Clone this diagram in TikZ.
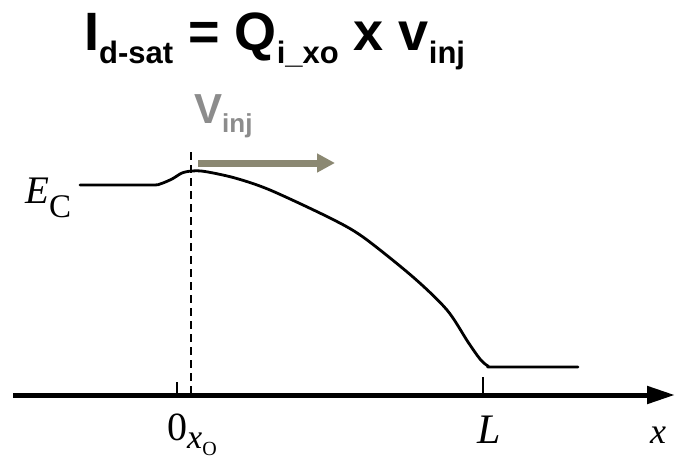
\documentclass[tikz,border=0pt]{standalone}
\usepackage{fontspec}
\setmainfont{Liberation Serif}
\newfontfamily\headf{Liberation Sans}
\usetikzlibrary{arrows.meta}
\definecolor{vgray}{HTML}{8C8C8C}
\definecolor{arrgray}{HTML}{8B8872}
\tikzset{
  lbl/.style={inner sep=0pt, anchor=base west},
  band/.style={line width=2.8pt, line join=round, line cap=round},
  axisline/.style={line width=5pt, -{Triangle[length=28pt,width=17pt]}},
  tickmark/.style={line width=2.2pt},
  refline/.style={line width=2.5pt, dash pattern=on 8pt off 5pt},
  injarrow/.style={draw=arrgray, line width=7pt, -{Triangle[length=18pt,width=18pt]}}
}
\begin{document}
\begin{tikzpicture}[x=1pt,y=-1pt]
\path[use as bounding box] (0,0) rectangle (675,458);
% title
\node[lbl] (title) at (84,50) {\headf\bfseries\fontsize{54}{60}\selectfont I\lower13pt\hbox{\fontsize{31}{31}\selectfont d-sat} = Q\lower13pt\hbox{\fontsize{31}{31}\selectfont i\_xo} x v\lower13pt\hbox{\fontsize{31}{31}\selectfont inj}};
% v_inj label
\node[lbl, text=vgray] (vinj) at (194,123) {\headf\bfseries\fontsize{42}{42}\selectfont V\lower9pt\hbox{\fontsize{26}{26}\selectfont inj}};
% E_C label
\node[lbl] (ec) at (25,203) {\fontsize{39}{39}\selectfont\itshape E\lower14pt\hbox{\upshape\fontsize{33}{33}\selectfont C}};
% axis
\coordinate (axstart) at (13,395);
\coordinate (axend) at (675,395);
\draw[axisline] (axstart) -- (axend);
% ticks
\coordinate (t0a) at (177,382);
\coordinate (t0b) at (177,395);
\coordinate (tLa) at (483,377);
\coordinate (tLb) at (483,395);
\draw[tickmark] (t0a) -- (t0b);
\draw[tickmark] (tLa) -- (tLb);
% dashed reference line
\coordinate (dtop) at (191,152);
\coordinate (dbot) at (191,395);
\draw[refline] (dtop) -- (dbot);
% band edge
\draw[band] plot[smooth, tension=0.5] coordinates {(80,185) (150,185) (160,184) (172,179) (182,173) (192,171) (205,171.5) (235,178) (270,190) (330,218) (363,237) (413,277) (447,310) (468,342) (480,359) (488,366) (495,367) (578,367)};
% injection arrow
\coordinate (ia) at (198,163);
\coordinate (ib) at (335,163);
\draw[injarrow] (ia) -- (ib);
% axis labels
\node[lbl] (zero) at (167,440) {\fontsize{40}{40}\selectfont 0\lower8pt\hbox{\itshape\fontsize{34}{34}\selectfont x\lower7pt\hbox{\upshape\fontsize{20}{20}\selectfont O}}};
\node[lbl] (lab) at (477,443) {\fontsize{42}{42}\selectfont\itshape L};
\node[lbl] (xlab) at (650,443) {\fontsize{36}{36}\selectfont\itshape x};
\end{tikzpicture}
\end{document}
